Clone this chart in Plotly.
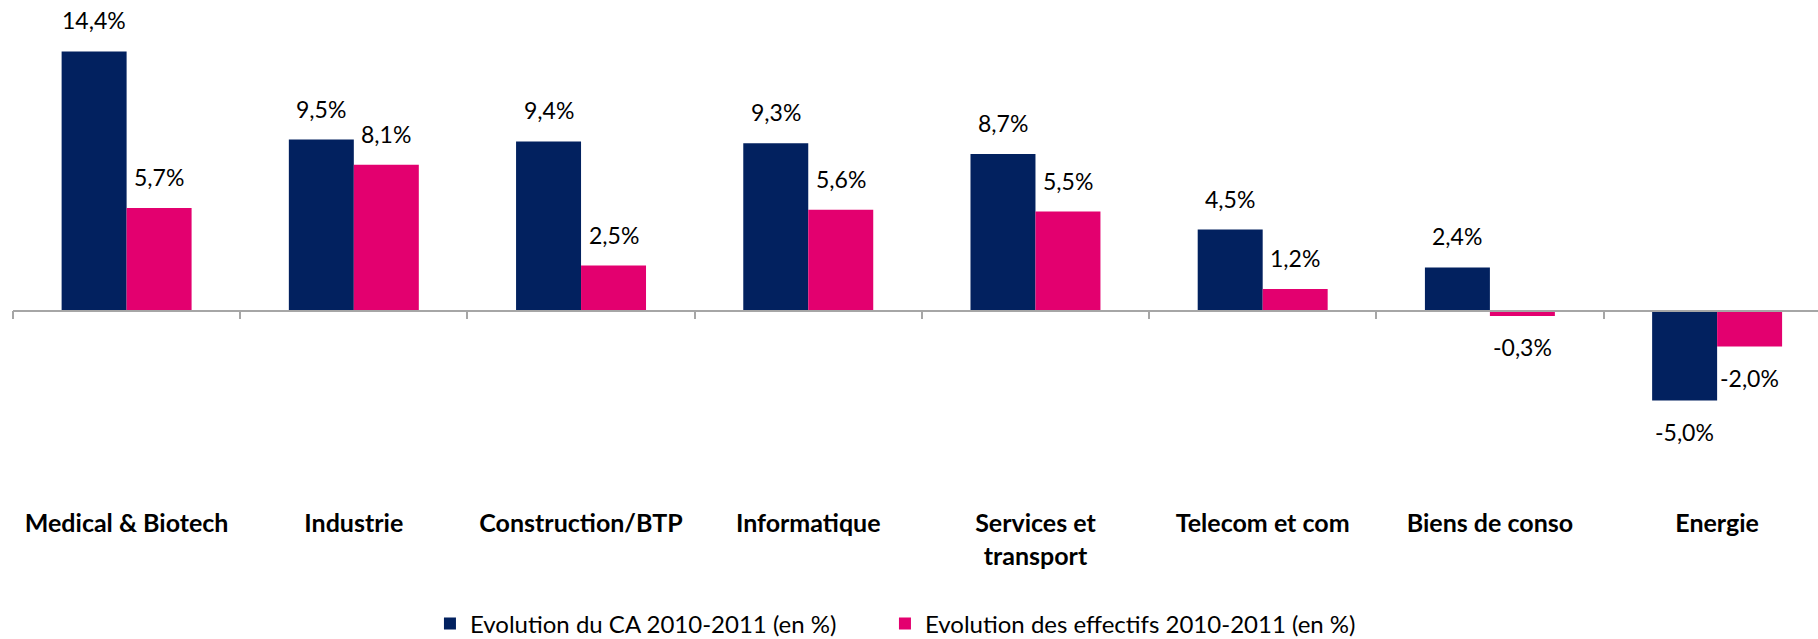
import plotly.graph_objects as go

categories = ["Medical & Biotech", "Industrie", "Construction/BTP", "Informatique",
              "Services et<br>transport", "Telecom et com", "Biens de conso", "Energie"]
ca_values = [14.4, 9.5, 9.4, 9.3, 8.7, 4.5, 2.4, -5.0]
eff_values = [5.7, 8.1, 2.5, 5.6, 5.5, 1.2, -0.3, -2.0]
series_names = ["Evolution du CA 2010-2011 (en %)", "Evolution des effectifs 2010-2011 (en %)"]
colors = ["#02215F", "#E3006F"]
legend_widths = [410, 480]

W, H = 1818, 639
ML, MR, MT, MB = 13, 0, 10, 134
y_range = [-10.8, 16.7]
x_range = [-0.5, 7.444]
zero_pos = (0 - y_range[0]) / (y_range[1] - y_range[0])

FONT = "Lato"
fig = go.Figure()
for name, vals, col, lw in zip(series_names, [ca_values, eff_values], colors, legend_widths):
    fig.add_trace(go.Bar(x=categories, y=vals, name=name, marker=dict(color=col, line=dict(width=0)),
                         xaxis="x", yaxis="y", hoverinfo="skip", legendwidth=lw))

# invisible trace carrying category labels on the bottom axis
fig.add_trace(go.Scatter(x=categories, y=[0] * len(categories), xaxis="x2", yaxis="y",
                         mode="markers", marker=dict(opacity=0), showlegend=False, hoverinfo="skip"))

def fmt(v):
    return f"{v:.1f}".replace(".", ",") + "%"

half_bar = 32.5
for si, vals in enumerate([ca_values, eff_values]):
    xs = -half_bar if si == 0 else half_bar
    for c, v in zip(categories, vals):
        fig.add_annotation(x=c, y=v, xref="x", yref="y", text=fmt(v), showarrow=False,
                           xshift=xs, yshift=31 if v >= 0 else -31, yanchor="middle",
                           font=dict(family=FONT, size=23, color="#000000"))

fig.update_layout(
    width=W, height=H, margin=dict(l=ML, r=MR, t=MT, b=MB, autoexpand=False),
    paper_bgcolor="white", plot_bgcolor="white",
    barmode="group", bargap=0.428, bargroupgap=0,
    font=dict(family=FONT, color="#000000"),
    xaxis=dict(type="category", range=x_range, anchor="free", position=zero_pos,
               showline=True, linecolor="#A6A6A6", linewidth=1.5,
               ticks="outside", tickson="boundaries", ticklen=8, tickcolor="#A6A6A6", tickwidth=1.5,
               showticklabels=False, showgrid=False, zeroline=False),
    xaxis2=dict(type="category", range=x_range, overlaying="x", anchor="y", side="bottom",
                showline=False, ticks="", showgrid=False, zeroline=False,
                tickfont=dict(family=FONT, size=25, weight="bold", color="#000000"),
                ticklabelstandoff=1),
    yaxis=dict(range=y_range, visible=False, showgrid=False, zeroline=False),
    legend=dict(orientation="h", x=0.231, xanchor="left", y=-0.2404, yanchor="middle",
                font=dict(family=FONT, size=24, color="#000000"),
                entrywidthmode="pixels", itemclick=False),
    showlegend=True,
)

fig.write_html("out.html", config={"displayModeBar": False},
               post_script="document.body.style.margin='0px';")
